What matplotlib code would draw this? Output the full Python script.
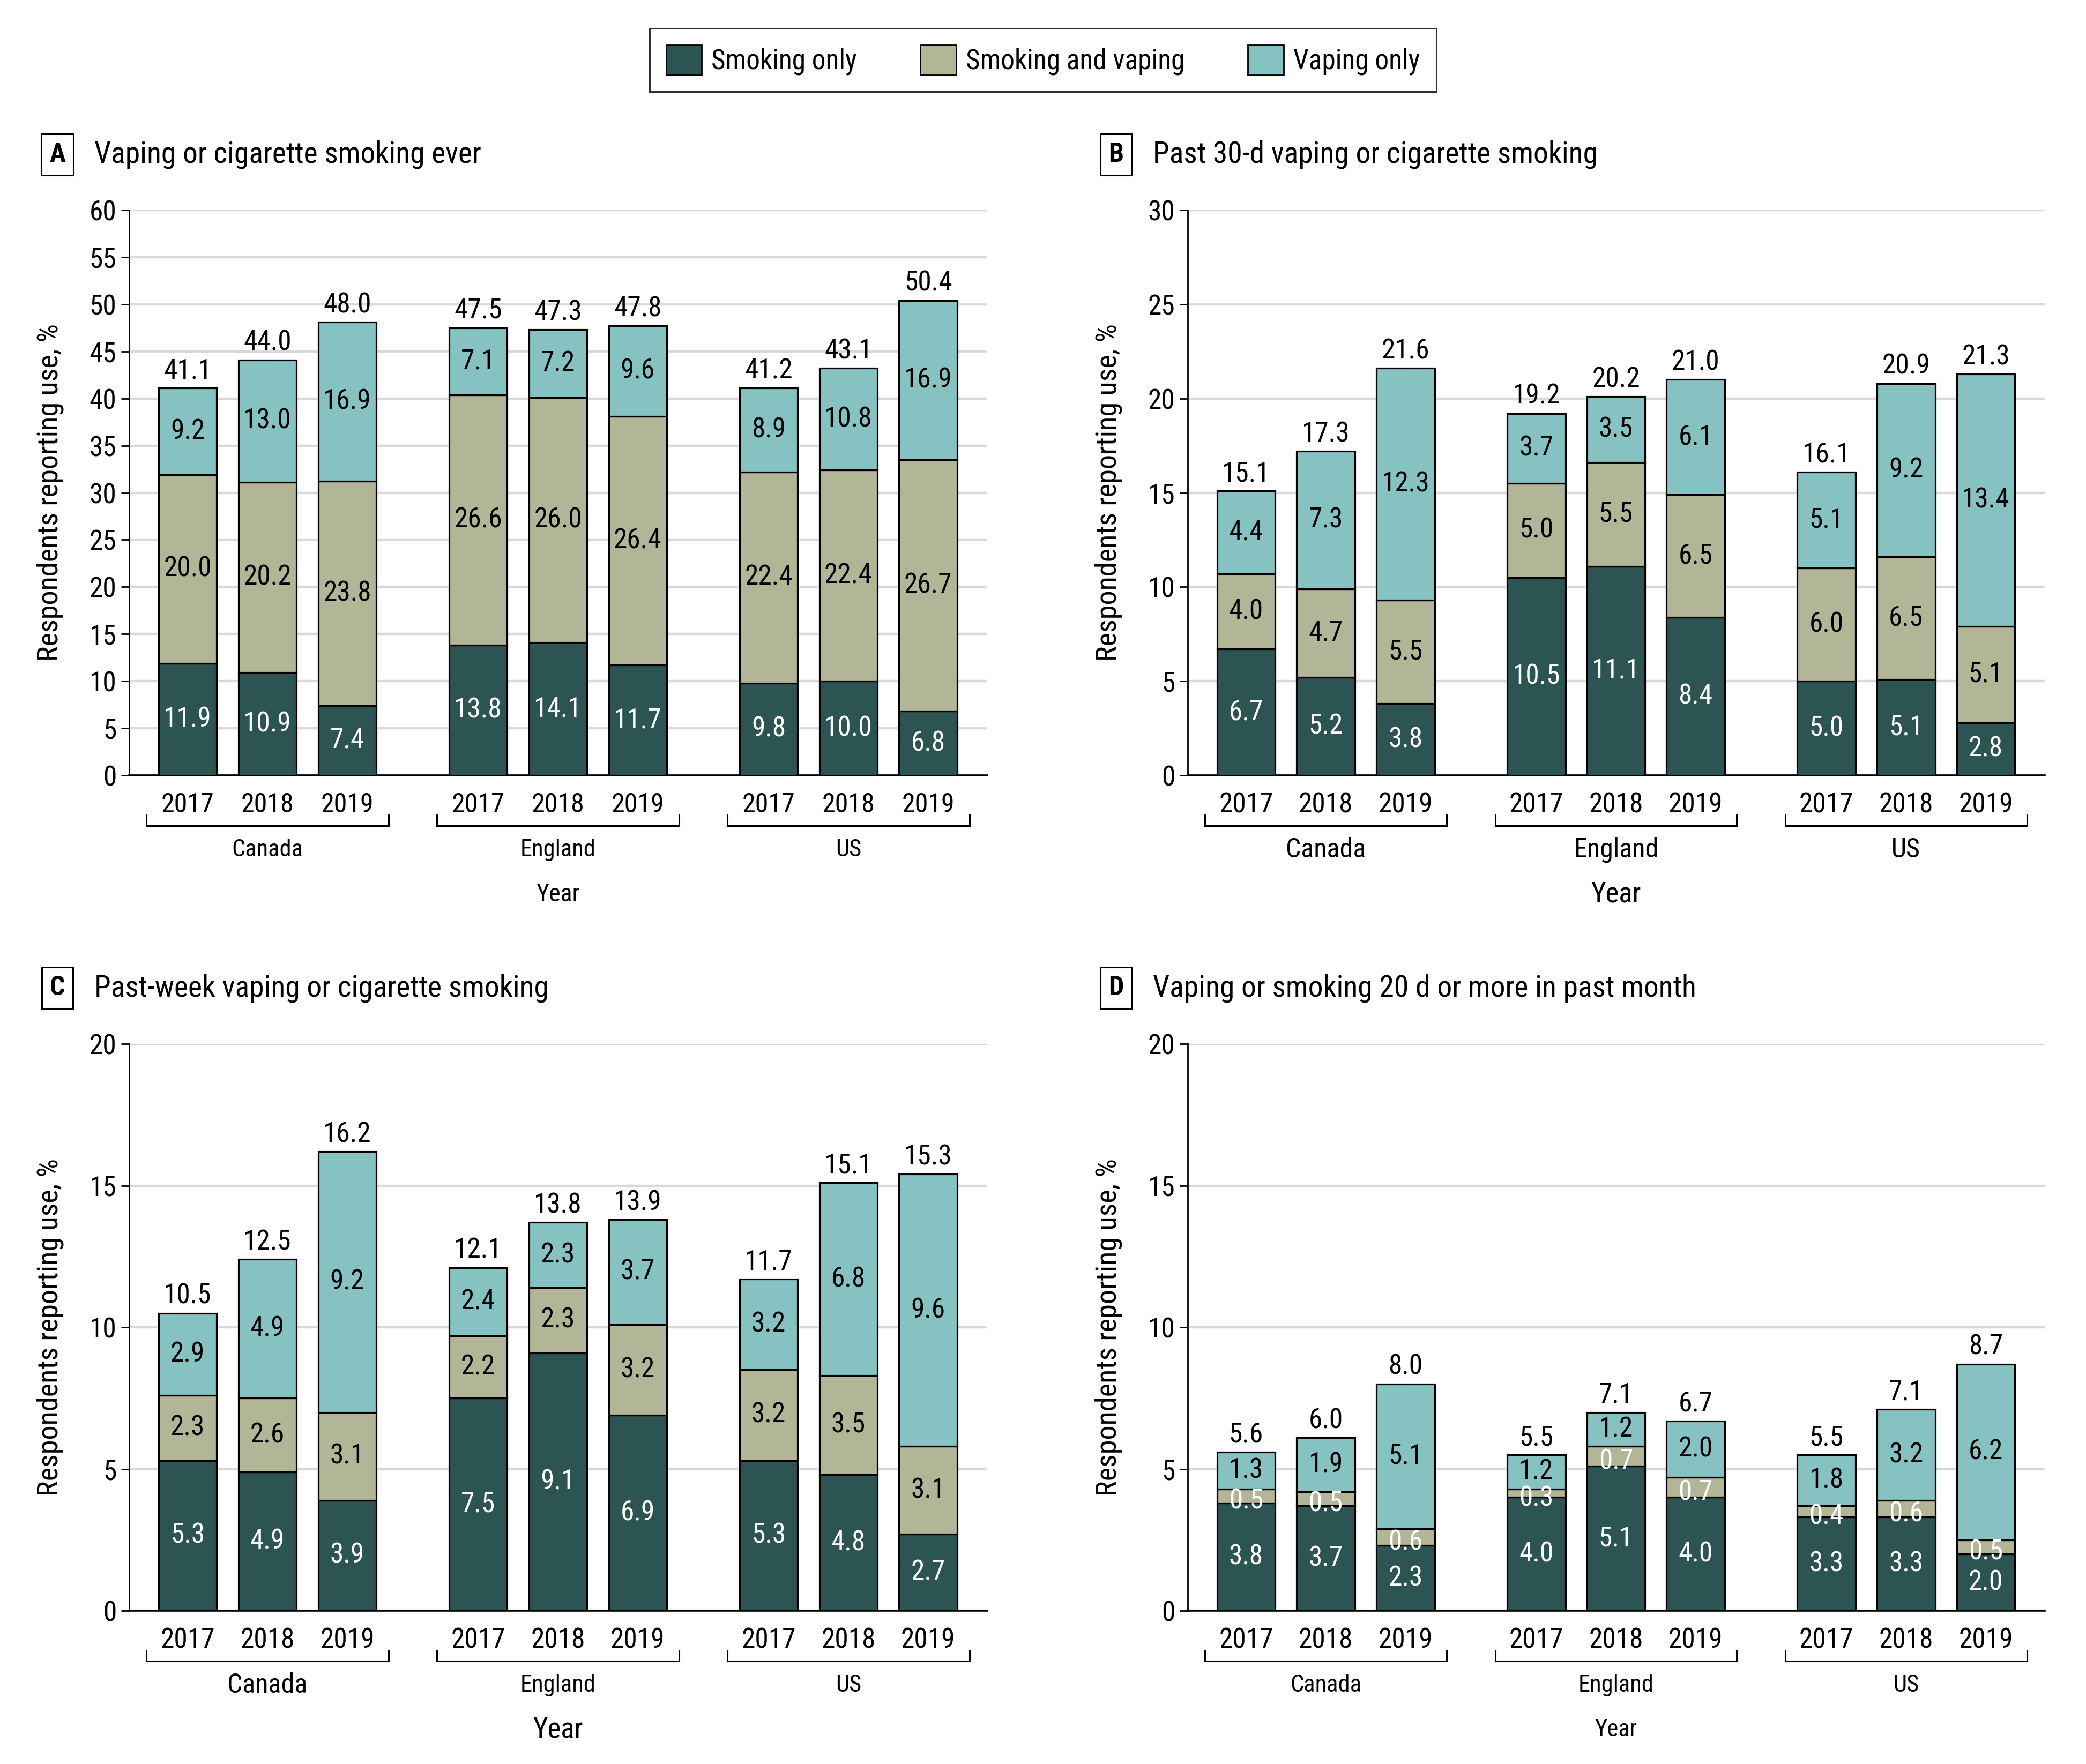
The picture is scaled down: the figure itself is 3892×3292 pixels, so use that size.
import matplotlib
matplotlib.use("Agg")
import matplotlib.pyplot as plt
import matplotlib.transforms as mtransforms
from matplotlib import font_manager as fm
from matplotlib.patches import Patch
from matplotlib.lines import Line2D

# ---- font choice: prefer a condensed sans if available ----
_entries = fm.fontManager.ttflist
_names = {f.name for f in _entries}
FONT = None
STRETCH = "normal"
for cand in ["Liberation Sans Narrow", "Roboto Condensed", "Open Sans Condensed",
             "Noto Sans Condensed", "Noto Sans SemiCondensed", "Arial Narrow",
             "DejaVu Sans Condensed"]:
    if cand in _names:
        FONT = cand
        break
if FONT is None:
    for f in _entries:
        if f.name in ("Noto Sans", "Open Sans", "Roboto", "DejaVu Sans") and str(f.stretch) in (
                "condensed", "semi-condensed", "extra-condensed", "400", "500", "300"):
            FONT, STRETCH = f.name, f.stretch
            break
if FONT is None:
    FONT = "Roboto"
plt.rcParams['font.family'] = [FONT, 'DejaVu Sans']
plt.rcParams['font.stretch'] = STRETCH

countries = ["Canada", "England", "US"]
years = ["2017", "2018", "2019"]
series_names = ["Smoking only", "Smoking and vaping", "Vaping only"]

# Panel A
a_smoke = [11.9, 10.9, 7.4, 13.8, 14.1, 11.7, 9.8, 10.0, 6.8]
a_both = [20.0, 20.2, 23.8, 26.6, 26.0, 26.4, 22.4, 22.4, 26.7]
a_vape = [9.2, 13.0, 16.9, 7.1, 7.2, 9.6, 8.9, 10.8, 16.9]
a_total = [41.1, 44.0, 48.0, 47.5, 47.3, 47.8, 41.2, 43.1, 50.4]
# Panel B
b_smoke = [6.7, 5.2, 3.8, 10.5, 11.1, 8.4, 5.0, 5.1, 2.8]
b_both = [4.0, 4.7, 5.5, 5.0, 5.5, 6.5, 6.0, 6.5, 5.1]
b_vape = [4.4, 7.3, 12.3, 3.7, 3.5, 6.1, 5.1, 9.2, 13.4]
b_total = [15.1, 17.3, 21.6, 19.2, 20.2, 21.0, 16.1, 20.9, 21.3]
# Panel C
c_smoke = [5.3, 4.9, 3.9, 7.5, 9.1, 6.9, 5.3, 4.8, 2.7]
c_both = [2.3, 2.6, 3.1, 2.2, 2.3, 3.2, 3.2, 3.5, 3.1]
c_vape = [2.9, 4.9, 9.2, 2.4, 2.3, 3.7, 3.2, 6.8, 9.6]
c_total = [10.5, 12.5, 16.2, 12.1, 13.8, 13.9, 11.7, 15.1, 15.3]
# Panel D
d_smoke = [3.8, 3.7, 2.3, 4.0, 5.1, 4.0, 3.3, 3.3, 2.0]
d_both = [0.5, 0.5, 0.6, 0.3, 0.7, 0.7, 0.4, 0.6, 0.5]
d_vape = [1.3, 1.9, 5.1, 1.2, 1.2, 2.0, 1.8, 3.2, 6.2]
d_total = [5.6, 6.0, 8.0, 5.5, 7.1, 6.7, 5.5, 7.1, 8.7]

a_ymax, b_ymax, c_ymax, d_ymax = 60, 30, 20, 20

titles = ["Vaping or cigarette smoking ever",
          "Past 30-d vaping or cigarette smoking",
          "Past-week vaping or cigarette smoking",
          "Vaping or smoking 20 d or more in past month"]
letters = ["A", "B", "C", "D"]

C_SMOKE = "#2B5453"
C_BOTH = "#B3B597"
C_VAPE = "#86C2C1"
GRID = "#D9D9D9"

W, H = 3892, 3292
DPI = 100
fig = plt.figure(figsize=(W / DPI, H / DPI), dpi=DPI)

GROUP_STEP = 3.64
BAR_W = 0.73
xpos = [g * GROUP_STEP + i for g in range(3) for i in range(3)]

LBL = 37      # bar value labels
TICK = 37     # y tick labels
YLAB = 39     # y axis label
TITLE = 40

# (year tick size, country size, "Year" size)
panels = [
    (a_smoke, a_both, a_vape, a_total, a_ymax, (241, 392, 1842, 1447), (36, 32, 33)),
    (b_smoke, b_both, b_vape, b_total, b_ymax, (2216, 392, 3815, 1447), (37, 36, 38)),
    (c_smoke, c_both, c_vape, c_total, c_ymax, (241, 1948, 1842, 3006), (37, 36, 38)),
    (d_smoke, d_both, d_vape, d_total, d_ymax, (2216, 1948, 3815, 3006), (37, 32, 32)),
]
title_pos = [(75, 288), (2050, 288), (75, 1844), (2050, 1844)]

for k, (sm, bo, va, tot, ymax, box, fs) in enumerate(panels):
    x0, y0, x1, y1 = box
    ax = fig.add_axes([x0 / W, 1 - y1 / H, (x1 - x0) / W, (y1 - y0) / H])
    ax.set_xlim(-0.733, 10.02)
    ax.set_ylim(0, ymax)
    ax.set_yticks(range(0, ymax + 1, 5))
    ax.yaxis.grid(True, color=GRID, linewidth=3.2, zorder=0)
    ax.set_axisbelow(True)
    for s in ["top", "right"]:
        ax.spines[s].set_visible(False)
    ax.spines["left"].set_linewidth(2.0)
    ax.spines["bottom"].set_linewidth(2.6)
    ax.tick_params(axis="y", length=11, width=2, labelsize=TICK, pad=6)
    ax.set_xticks(xpos)
    ax.set_xticklabels(years * 3, fontsize=fs[0])
    ax.tick_params(axis="x", length=0, pad=22)

    bot2 = [s + b for s, b in zip(sm, bo)]
    ax.bar(xpos, sm, BAR_W, color=C_SMOKE, edgecolor="black", linewidth=2.3, zorder=3)
    ax.bar(xpos, bo, BAR_W, bottom=sm, color=C_BOTH, edgecolor="black", linewidth=2.3, zorder=3)
    ax.bar(xpos, va, BAR_W, bottom=bot2, color=C_VAPE, edgecolor="black", linewidth=2.3, zorder=3)

    both_col = "white" if k == 3 else "black"
    both_dy = -7 if k == 3 else 0
    for x, s, b, v, t in zip(xpos, sm, bo, va, tot):
        ax.text(x, s / 2, f"{s:.1f}", ha="center", va="center", color="white", fontsize=LBL, zorder=4)
        ax.annotate(f"{b:.1f}", (x, s + b / 2), xytext=(0, both_dy), textcoords="offset points",
                    ha="center", va="center", color=both_col, fontsize=LBL, zorder=4)
        ax.text(x, s + b + v / 2, f"{v:.1f}", ha="center", va="center", color="black", fontsize=LBL, zorder=4)
        ax.annotate(f"{t:.1f}", (x, s + b + v), xytext=(0, 5), textcoords="offset points",
                    ha="center", va="bottom", fontsize=LBL, zorder=4)

    ax.set_ylabel("Respondents reporting use, %", fontsize=YLAB)
    ax.yaxis.set_label_coords(-122 / (x1 - x0), 0.5)

    # Country brackets
    blend = mtransforms.blended_transform_factory(ax.transData, ax.transAxes)
    tr_line = mtransforms.offset_copy(blend, fig=fig, y=-94, units="dots")
    tr_tick = mtransforms.offset_copy(blend, fig=fig, y=-74, units="dots")
    for g, c in enumerate(countries):
        left = xpos[g * 3] - BAR_W / 2 - 0.15
        right = xpos[g * 3 + 2] + BAR_W / 2 + 0.15
        ax.add_line(Line2D([left, right], [0, 0], transform=tr_line, color="black",
                           linewidth=2.2, clip_on=False, solid_capstyle="projecting"))
        for xx in (left, right):
            p0 = tr_line.transform((xx, 0))
            p1 = tr_tick.transform((xx, 0))
            fig.add_artist(Line2D([p0[0], p1[0]], [p0[1], p1[1]], transform=None,
                                  color="black", linewidth=2.2, clip_on=False))
        tr_c = mtransforms.offset_copy(blend, fig=fig, y=-139, units="dots")
        cfs = fs[1]
        if k == 2 and g > 0:
            cfs = 32
        ax.text((xpos[g * 3] + xpos[g * 3 + 2]) / 2, 0, c, transform=tr_c, ha="center",
                va="center", fontsize=cfs, clip_on=False)
    tr_y = mtransforms.offset_copy(blend, fig=fig, y=-222, units="dots")
    ax.text(xpos[4], 0, "Year", transform=tr_y, ha="center", va="center", fontsize=fs[2], clip_on=False)

    tx, ty = title_pos[k]
    fig.text(tx / W + 0.0082, 1 - ty / H, letters[k], fontsize=36, fontweight="bold",
             ha="center", va="center",
             bbox=dict(boxstyle="square,pad=0.3", facecolor="white", edgecolor="black", linewidth=2.2))
    fig.text((tx + 101) / W, 1 - ty / H, titles[k], fontsize=TITLE, ha="left", va="center")

handles = [Patch(facecolor=C_SMOKE, edgecolor="black", linewidth=2),
           Patch(facecolor=C_BOTH, edgecolor="black", linewidth=2),
           Patch(facecolor=C_VAPE, edgecolor="black", linewidth=2)]
leg = fig.legend(handles, series_names, loc="center", bbox_to_anchor=(0.5, 1 - 112 / H),
                 ncol=3, fontsize=37, frameon=True, fancybox=False, edgecolor="black",
                 handlelength=1.3, handleheight=1.3, handletextpad=0.35, columnspacing=2.3,
                 borderpad=0.6)
leg.get_frame().set_linewidth(2.2)

fig.savefig("out.png", dpi=DPI)
